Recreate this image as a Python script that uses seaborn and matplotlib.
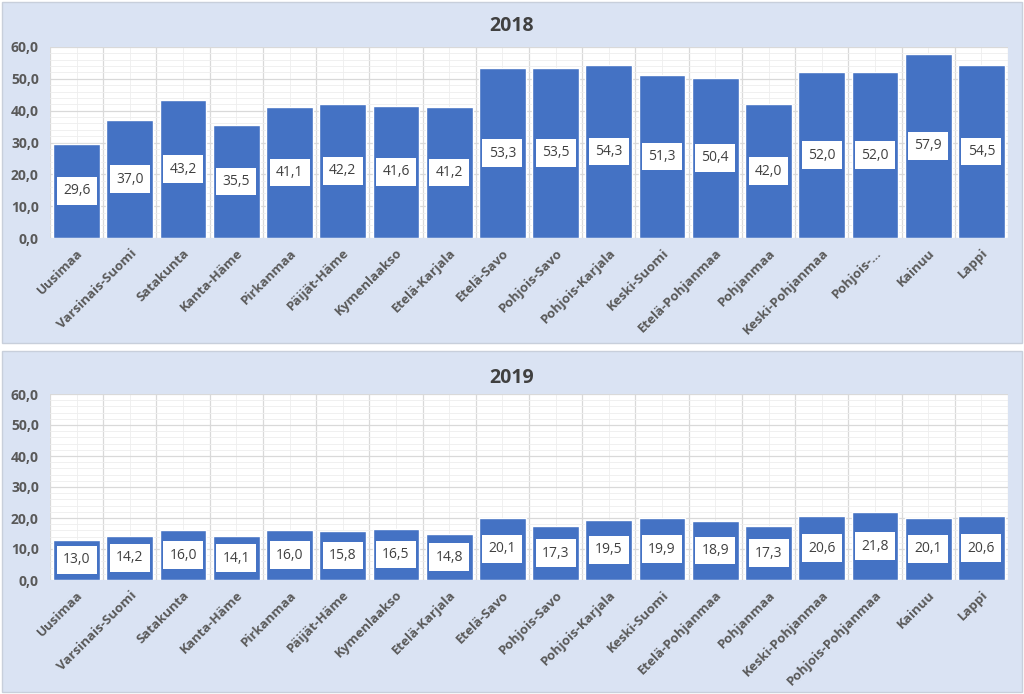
import numpy as np
import pandas as pd
import matplotlib
matplotlib.use("Agg")
import matplotlib.pyplot as plt
from matplotlib.patches import Rectangle
from matplotlib.ticker import MultipleLocator
import seaborn as sns

regions = ["Uusimaa", "Varsinais-Suomi", "Satakunta", "Kanta-Häme", "Pirkanmaa",
           "Päijät-Häme", "Kymenlaakso", "Etelä-Karjala", "Etelä-Savo", "Pohjois-Savo",
           "Pohjois-Karjala", "Keski-Suomi", "Etelä-Pohjanmaa", "Pohjanmaa",
           "Keski-Pohjanmaa", "Pohjois-Pohjanmaa", "Kainuu", "Lappi"]
labels_2018 = regions[:15] + ["Pohjois-..."] + regions[16:]
labels_2019 = regions
values_2018 = [29.6, 37.0, 43.2, 35.5, 41.1, 42.2, 41.6, 41.2, 53.3, 53.5,
               54.3, 51.3, 50.4, 42.0, 52.0, 52.0, 57.9, 54.5]
values_2019 = [13.0, 14.2, 16.0, 14.1, 16.0, 15.8, 16.5, 14.8, 20.1, 17.3,
               19.5, 19.9, 18.9, 17.3, 20.6, 21.8, 20.1, 20.6]

sns.set_theme(style="white")
plt.rcParams["font.family"] = ["Open Sans", "DejaVu Sans"]

W, H = 1024, 694
fig = plt.figure(figsize=(W / 100, H / 100), dpi=100)
fig.patch.set_facecolor("white")

bg = "#dae3f3"
bar_color = "#4472c4"
text_col = "#595959"


def fx(px):
    return px / W


def fy(py):
    return 1 - py / H


def panel(top, bottom, plot_top, plot_bottom, title, title_y, labels, values):
    fig.patches.append(Rectangle((fx(2), fy(bottom)), fx(1020), (bottom - top) / H,
                                 transform=fig.transFigure, facecolor=bg,
                                 edgecolor="#c8cfdb", linewidth=1, zorder=-10))
    ax = fig.add_axes([fx(50), fy(plot_bottom), fx(958), (plot_bottom - plot_top) / H])
    ax.set_zorder(1)
    ax.set_facecolor("white")
    df = pd.DataFrame({"region": labels, "value": values})
    sns.barplot(data=df, x="region", y="value", color=bar_color, saturation=1,
                width=0.88, ax=ax, zorder=3)
    ax.set_xlim(-0.5, len(values) - 0.5)
    ax.set_ylim(0, 60)
    ax.yaxis.set_major_locator(MultipleLocator(10))
    ax.yaxis.set_minor_locator(MultipleLocator(2))
    ax.set_xticks(np.arange(len(values) + 1) - 0.5, minor=True)
    ax.grid(True, which="major", axis="y", color="#d9d9d9", linewidth=0.9, zorder=0)
    ax.grid(True, which="minor", axis="y", color="#eeeeee", linewidth=0.6, zorder=0)
    ax.grid(True, which="minor", axis="x", color="#d9d9d9", linewidth=0.9, zorder=0)
    ax.grid(True, which="major", axis="x", color="#eeeeee", linewidth=0.6, zorder=0)
    ax.set_axisbelow(True)
    for s in ax.spines.values():
        s.set_visible(False)
    ax.tick_params(which="both", length=0)
    ax.set_yticks(np.arange(0, 61, 10))
    ax.set_yticklabels([f"{v:.1f}".replace(".", ",") for v in np.arange(0, 61, 10)],
                       fontsize=10, fontweight="bold", color=text_col)
    ax.set_xticks(np.arange(len(values)))
    ax.set_xticklabels(labels, rotation=45, ha="right", rotation_mode="anchor",
                       fontsize=9.5, fontweight="bold", color=text_col)
    ax.tick_params(axis="x", pad=6)
    ax.tick_params(axis="y", pad=8)
    ax.set_xlabel("")
    ax.set_ylabel("")
    for i, v in enumerate(values):
        ax.text(i, v / 2, f"{v:.1f}".replace(".", ","), ha="center", va="center",
                fontsize=10, color="#404040", zorder=5,
                bbox=dict(boxstyle="square,pad=0.45", fc="white", ec="none"))
    fig.text(0.5, fy(title_y), title, ha="center", va="center", fontsize=14,
             fontweight="bold", color="#404040")
    return ax


panel(2, 343, 47, 238, "2018", 26, labels_2018, values_2018)
panel(351, 692, 394, 580, "2019", 378, labels_2019, values_2019)

fig.savefig("out.png", dpi=100, facecolor=fig.get_facecolor())
